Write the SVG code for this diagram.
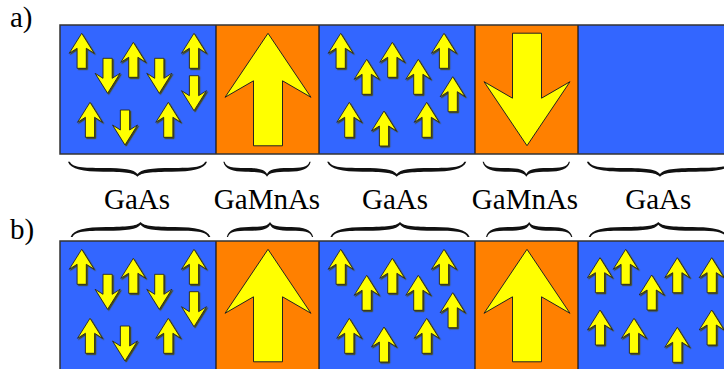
<svg xmlns="http://www.w3.org/2000/svg" xmlns:xlink="http://www.w3.org/1999/xlink" width="724" height="369" viewBox="0 0 724 369">
<style>
.gaas{fill:#3366FF}
.gamn{fill:#FF8000}
.sep{stroke:#111;stroke-width:1.2}
.frame{fill:none;stroke:#333;stroke-width:1.5}
.arr{fill:#FFFF00;stroke:#222;stroke-width:0.9;stroke-linejoin:miter}
.big{fill:#FFFF00;stroke:#222;stroke-width:1}
.brace{fill:#111}
.lbl{font-family:"Liberation Serif","Times New Roman",serif;font-size:29px;fill:#000}
</style>
<defs>
<filter id="sh" x="-20%" y="-20%" width="150%" height="150%">
<feDropShadow dx="1.2" dy="1.2" stdDeviation="0.3" flood-color="#4a4a00" flood-opacity="0.9"/>
</filter>
<path id="sa" class="arr" d="M0,0 L12.5,20 L4.6,15 L4.6,35 L-4.6,35 L-4.6,15 L-12.5,20 Z"/>
<path id="ba" class="big" d="M0,0 L43,64 L14.5,47.5 L14.5,112.5 L-14.5,112.5 L-14.5,47.5 L-43,64 Z"/>
<path id="br" class="brace" d="M0,15 C-3,10.5 -10,10.3 -25,10 C-40,9.7 -48.5,7.8 -50.8,0 L-49.4,0 C-47.2,5.8 -40,6.2 -25,6.2 C-10,6.2 -2.5,7.5 0,12.2 C2.5,7.5 10,6.2 25,6.2 C40,6.2 47.2,5.8 49.4,0 L50.8,0 C48.5,7.8 40,9.7 25,10 C10,10.3 3,10.5 0,15 Z"/>
</defs>

<text class="lbl" x="10" y="27">a)</text>
<text class="lbl" x="10" y="239">b)</text>

<!-- Panel a -->
<g id="a-gaas1">
<rect class="gaas" x="60" y="25" width="156" height="129"/>
<g filter="url(#sh)">
<use xlink:href="#sa" transform="translate(81.7,33.3)"/>
<use xlink:href="#sa" transform="translate(107.6,93.3) rotate(180)"/>
<use xlink:href="#sa" transform="translate(133.3,42.3)"/>
<use xlink:href="#sa" transform="translate(159.3,93.3) rotate(180)"/>
<use xlink:href="#sa" transform="translate(194,33.3)"/>
<use xlink:href="#sa" transform="translate(194,110.7) rotate(180)"/>
<use xlink:href="#sa" transform="translate(90,102.3)"/>
<use xlink:href="#sa" transform="translate(125,145) rotate(180)"/>
<use xlink:href="#sa" transform="translate(168.3,102.3)"/>
</g>
</g>
<g id="a-gamnas1">
<rect class="gamn" x="216" y="25" width="103" height="129"/>
<use xlink:href="#ba" transform="translate(268,33.3)"/>
</g>
<g id="a-gaas2">
<rect class="gaas" x="319" y="25" width="156" height="129"/>
<g filter="url(#sh)">
<use xlink:href="#sa" transform="translate(340.7,33.3)"/>
<use xlink:href="#sa" transform="translate(392.3,42.3)"/>
<use xlink:href="#sa" transform="translate(444,33.3)"/>
<use xlink:href="#sa" transform="translate(366.7,59.3)"/>
<use xlink:href="#sa" transform="translate(418.3,59.3)"/>
<use xlink:href="#sa" transform="translate(452.7,76.7)"/>
<use xlink:href="#sa" transform="translate(349.3,102.3)"/>
<use xlink:href="#sa" transform="translate(384,111)"/>
<use xlink:href="#sa" transform="translate(426.7,102.3)"/>
</g>
</g>
<g id="a-gamnas2">
<rect class="gamn" x="475" y="25" width="103" height="129"/>
<use xlink:href="#ba" transform="translate(527,145.7) rotate(180)"/>
</g>
<g id="a-gaas3">
<rect class="gaas" x="578" y="25" width="160" height="129"/>
</g>
<g id="a-frame">
<line class="sep" x1="216" y1="25" x2="216" y2="154"/>
<line class="sep" x1="319" y1="25" x2="319" y2="154"/>
<line class="sep" x1="475" y1="25" x2="475" y2="154"/>
<line class="sep" x1="578" y1="25" x2="578" y2="154"/>
<rect class="frame" x="60" y="25" width="680" height="129"/>
</g>

<!-- Panel b -->
<g id="b-gaas1">
<rect class="gaas" x="60" y="241" width="156" height="140"/>
<g filter="url(#sh)">
<use xlink:href="#sa" transform="translate(81.7,249.3)"/>
<use xlink:href="#sa" transform="translate(107.6,309.3) rotate(180)"/>
<use xlink:href="#sa" transform="translate(133.3,258.3)"/>
<use xlink:href="#sa" transform="translate(159.3,309.3) rotate(180)"/>
<use xlink:href="#sa" transform="translate(194,249.3)"/>
<use xlink:href="#sa" transform="translate(194,326.7) rotate(180)"/>
<use xlink:href="#sa" transform="translate(90,318.3)"/>
<use xlink:href="#sa" transform="translate(125,361) rotate(180)"/>
<use xlink:href="#sa" transform="translate(168.3,318.3)"/>
</g>
</g>
<g id="b-gamnas1">
<rect class="gamn" x="216" y="241" width="103" height="140"/>
<use xlink:href="#ba" transform="translate(268,249.3)"/>
</g>
<g id="b-gaas2">
<rect class="gaas" x="319" y="241" width="156" height="140"/>
<g filter="url(#sh)">
<use xlink:href="#sa" transform="translate(340.7,249.3)"/>
<use xlink:href="#sa" transform="translate(392.3,258.3)"/>
<use xlink:href="#sa" transform="translate(444,249.3)"/>
<use xlink:href="#sa" transform="translate(366.7,275.3)"/>
<use xlink:href="#sa" transform="translate(418.3,275.3)"/>
<use xlink:href="#sa" transform="translate(452.7,292.7)"/>
<use xlink:href="#sa" transform="translate(349.3,318.3)"/>
<use xlink:href="#sa" transform="translate(384,327)"/>
<use xlink:href="#sa" transform="translate(426.7,318.3)"/>
</g>
</g>
<g id="b-gamnas2">
<rect class="gamn" x="475" y="241" width="103" height="140"/>
<use xlink:href="#ba" transform="translate(527,249.3)"/>
</g>
<g id="b-gaas3">
<rect class="gaas" x="578" y="241" width="160" height="140"/>
<g filter="url(#sh)">
<use xlink:href="#sa" transform="translate(600,257.7)"/>
<use xlink:href="#sa" transform="translate(625.7,249.3)"/>
<use xlink:href="#sa" transform="translate(651.7,275)"/>
<use xlink:href="#sa" transform="translate(677.3,257.7)"/>
<use xlink:href="#sa" transform="translate(711.7,257.7)"/>
<use xlink:href="#sa" transform="translate(600,310)"/>
<use xlink:href="#sa" transform="translate(634,318.3)"/>
<use xlink:href="#sa" transform="translate(677.3,327.3)"/>
<use xlink:href="#sa" transform="translate(711.7,310)"/>
</g>
</g>
<g id="b-frame">
<line class="sep" x1="216" y1="241" x2="216" y2="369"/>
<line class="sep" x1="319" y1="241" x2="319" y2="369"/>
<line class="sep" x1="475" y1="241" x2="475" y2="369"/>
<line class="sep" x1="578" y1="241" x2="578" y2="369"/>
<rect class="frame" x="60" y="241" width="680" height="140"/>
</g>

<!-- Braces -->
<g id="braces">
<use xlink:href="#br" transform="translate(137.5,161.7) scale(1.37,1)"/>
<use xlink:href="#br" transform="translate(267,161.7) scale(0.86,1)"/>
<use xlink:href="#br" transform="translate(396.7,161.7) scale(1.37,1)"/>
<use xlink:href="#br" transform="translate(526.3,161.7) scale(0.86,1)"/>
<use xlink:href="#br" transform="translate(660,161.7) scale(1.44,1)"/>
<use xlink:href="#br" transform="translate(140.5,237) scale(1.376,-1)"/>
<use xlink:href="#br" transform="translate(270,237) scale(0.85,-1)"/>
<use xlink:href="#br" transform="translate(400,237) scale(1.37,-1)"/>
<use xlink:href="#br" transform="translate(529.2,237) scale(0.85,-1)"/>
<use xlink:href="#br" transform="translate(658.3,237) scale(1.37,-1)"/>
</g>

<!-- Labels -->
<g id="labels">
<text class="lbl" x="137" y="209" text-anchor="middle">GaAs</text>
<text class="lbl" x="267" y="209" text-anchor="middle">GaMnAs</text>
<text class="lbl" x="395" y="209" text-anchor="middle">GaAs</text>
<text class="lbl" x="525" y="209" text-anchor="middle">GaMnAs</text>
<text class="lbl" x="658.3" y="209" text-anchor="middle">GaAs</text>
</g>
</svg>
